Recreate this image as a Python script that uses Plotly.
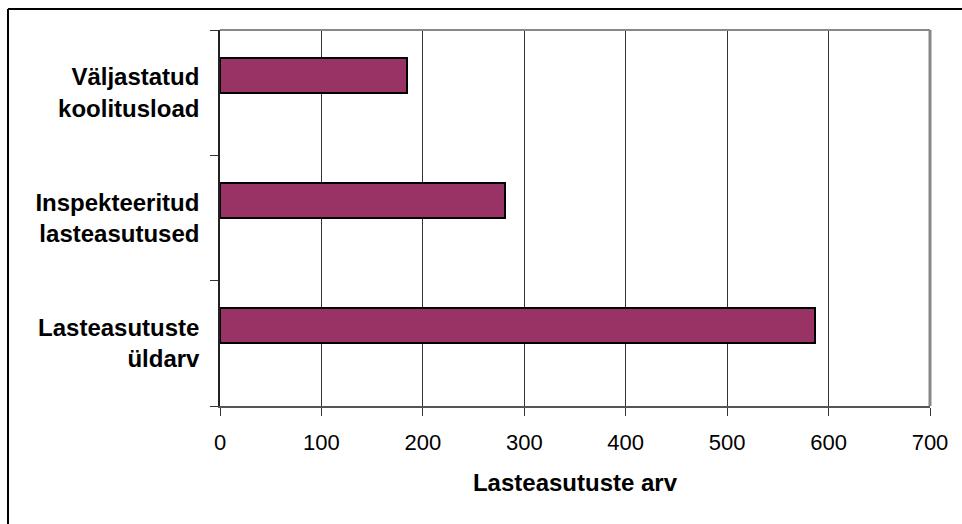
import plotly.graph_objects as go

# data (bottom to top, as the y axis is drawn)
categories = ["Lasteasutuste<br>üldarv", "Inspekteeritud<br>lasteasutused", "Väljastatud<br>koolitusload"]
values = [587, 281, 184]
x_ticks = [0, 100, 200, 300, 400, 500, 600, 700]

W, H = 962, 524
L, R, T, B = 220, 32, 30, 118
pw, ph = W - L - R, H - T - B

fig = go.Figure()
fig.add_trace(go.Bar(
    x=values, y=categories, orientation="h",
    width=0.28, offset=0,
    marker=dict(color="#993366", line=dict(color="black", width=2)),
    showlegend=False,
))

fig.update_layout(
    width=W, height=H,
    margin=dict(l=L, r=R, t=T, b=B),
    paper_bgcolor="white", plot_bgcolor="white",
    font=dict(family="Liberation Sans, Arial", color="black"),
    bargap=0,
)
fig.update_xaxes(
    range=[0, 700], tickvals=x_ticks, ticks="outside", ticklen=8, tickcolor="#333",
    showgrid=True, gridcolor="#333", gridwidth=1,
    showline=True, linecolor="#555", linewidth=2,
    tickfont=dict(size=22), ticklabelstandoff=8,
    title=dict(text="<b>Lasteasutuste arv</b>", font=dict(size=24), standoff=20),
    zeroline=False,
)
fig.update_yaxes(
    type="category", categoryorder="array", categoryarray=categories,
    range=[-0.5, 2.5], tickson="boundaries", ticks="outside", ticklen=8, tickcolor="#333",
    showline=True, linecolor="#222", linewidth=1.5, showgrid=False,
    tickfont=dict(size=24), ticklabelstandoff=14,
)
# make category labels bold
fig.update_yaxes(ticktext=["<b>" + c + "</b>" for c in categories], tickvals=categories)

# plot frame (top and right in gray), outer chart border (top and left only visible)
fig.add_shape(type="line", xref="paper", yref="paper", x0=0, x1=1, y0=1, y1=1,
              line=dict(color="#888", width=2))
fig.add_shape(type="line", xref="paper", yref="paper", x0=1, x1=1, y0=0, y1=1,
              line=dict(color="#888", width=3))
fig.add_shape(type="line", xref="paper", yref="paper",
              x0=(8 - L) / pw, x1=1.2, y0=1 + (T - 9) / ph, y1=1 + (T - 9) / ph,
              line=dict(color="black", width=2))
fig.add_shape(type="line", xref="paper", yref="paper",
              x0=(8 - L) / pw, x1=(8 - L) / pw, y0=-0.5, y1=1 + (T - 9) / ph,
              line=dict(color="black", width=2))

fig.write_html("out.html", config={"displayModeBar": False},
               post_script="document.body.style.margin='0';")
